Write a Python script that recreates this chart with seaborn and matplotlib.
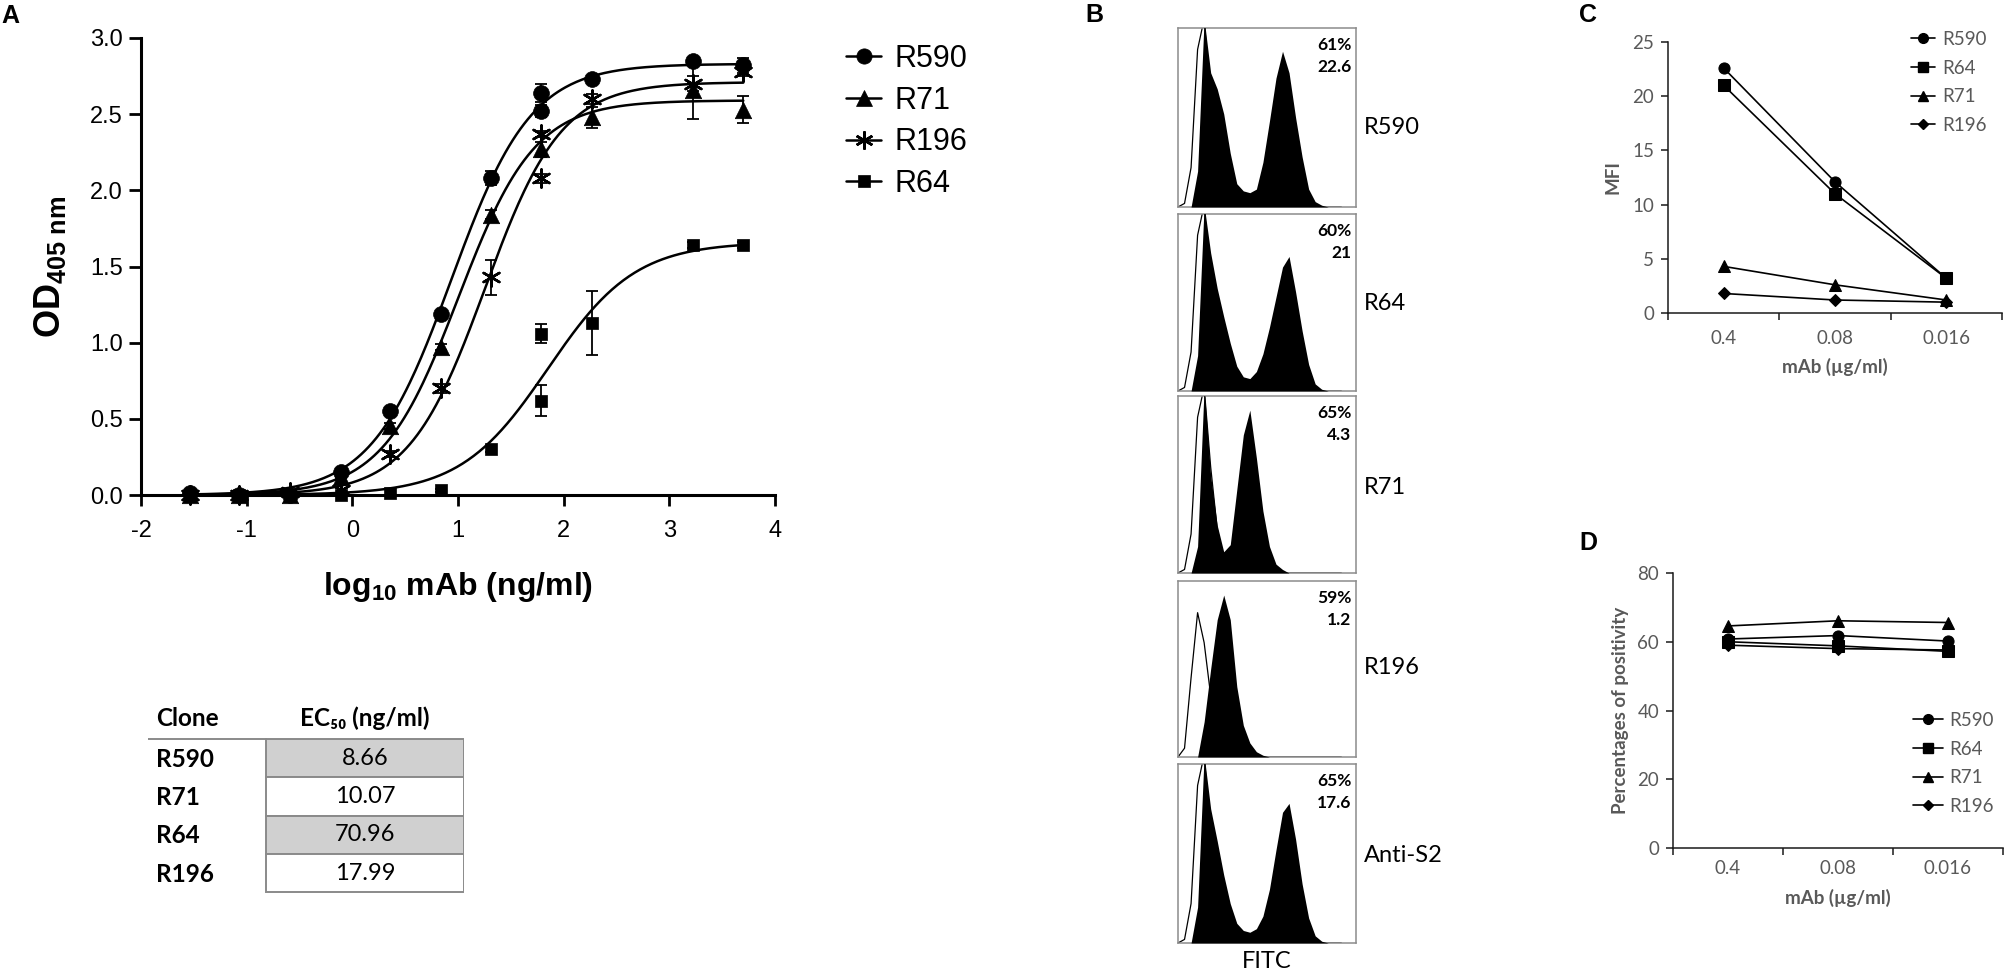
import numpy as np
import pandas as pd
import matplotlib
matplotlib.use("Agg")
import matplotlib.pyplot as plt
import seaborn as sns
from matplotlib.lines import Line2D
from matplotlib.patches import Rectangle
from matplotlib.ticker import FormatStrFormatter

# ---------------- A: ELISA titration ----------------
clones_A = ["R590", "R71", "R196", "R64"]
log_conc = [-1.54, -1.07, -0.59, -0.11, 0.36, 0.84, 1.31, 1.79, 2.27, 3.22, 3.70]
od_R590 = [0.01, 0.00, 0.00, 0.15, 0.55, 1.19, 2.08, 2.64, 2.73, 2.85, 2.82]
od_R71 = [0.00, 0.00, 0.00, 0.12, 0.45, 0.97, 1.84, 2.27, 2.48, 2.66, 2.53]
od_R196 = [0.00, 0.00, 0.02, 0.03, 0.27, 0.70, 1.43, 2.08, 2.60, 2.70, 2.78]
od_R64 = [0.00, 0.00, 0.00, 0.00, 0.01, 0.03, 0.30, 0.62, 1.13, 1.64, 1.64]
sd_R590 = [0, 0, 0, 0.01, 0.02, 0.02, 0.045, 0.06, 0.02, 0.02, 0.05]
sd_R71 = [0, 0, 0, 0.01, 0.02, 0.02, 0.03, 0.05, 0.07, 0.19, 0.09]
sd_R196 = [0, 0, 0, 0, 0.02, 0.03, 0.115, 0.03, 0.03, 0.05, 0.03]
sd_R64 = [0, 0, 0, 0, 0, 0.01, 0.02, 0.10, 0.21, 0.02, 0.02]
# second readings at log10 = 1.79
dup_log = 1.79
dup_clones = ["R590", "R196", "R64"]
dup_od = [2.52, 2.37, 1.06]
dup_sd = [0.04, 0.02, 0.065]
# 4PL fit (top, hill); EC50 taken from the table
fit_top = [2.83, 2.59, 2.71, 1.66]
fit_hill = [1.15, 1.2, 1.2, 1.05]

table_clones = ["R590", "R71", "R64", "R196"]
ec50_values = [8.66, 10.07, 70.96, 17.99]

# ---------------- B: flow histograms ----------------
hist_names = ["R590", "R64", "R71", "R196", "Anti-S2"]
pct_positive = [61, 60, 65, 59, 65]
mfi_values = ["22.6", "21", "4.3", "1.2", "17.6"]
fitc_channel = list(range(0, 101, 4))
fill_R590 = [0, 0, 0, 20, 105, 75, 66, 52, 30, 13, 9, 8, 10, 25, 48, 72, 87, 75, 50, 28, 10, 3, 1, 0, 0, 0]
fill_R64 = [0, 0, 0, 20, 105, 78, 58, 42, 27, 14, 8, 7, 11, 21, 36, 53, 70, 76, 56, 34, 15, 4, 1, 0, 0, 0]
fill_R71 = [0, 0, 0, 15, 105, 55, 27, 12, 16, 47, 78, 92, 65, 35, 15, 5, 2, 0, 0, 0, 0, 0, 0, 0, 0, 0]
fill_R196 = [0, 0, 0, 0, 20, 50, 78, 92, 78, 40, 18, 8, 3, 1, 0, 0, 0, 0, 0, 0, 0, 0, 0, 0, 0, 0]
fill_antiS2 = [0, 0, 0, 20, 105, 75, 57, 38, 22, 11, 7, 6, 8, 15, 30, 52, 73, 78, 58, 33, 14, 4, 1, 0, 0, 0]
ctrl_main = [0, 2, 22, 88, 105, 60, 25, 8, 2, 0, 0, 0, 0, 0, 0, 0, 0, 0, 0, 0, 0, 0, 0, 0, 0, 0]
ctrl_R196 = [0, 5, 45, 82, 65, 35, 15, 5, 1, 0, 0, 0, 0, 0, 0, 0, 0, 0, 0, 0, 0, 0, 0, 0, 0, 0]

# ---------------- C / D ----------------
conc_ugml = ["0.4", "0.08", "0.016"]
clones_CD = ["R590", "R64", "R71", "R196"]
mfi_R590 = [22.6, 12.1, 3.2]
mfi_R64 = [21.0, 11.0, 3.2]
mfi_R71 = [4.3, 2.6, 1.2]
mfi_R196 = [1.8, 1.2, 1.0]
pos_R590 = [60.8, 61.8, 60.2]
pos_R64 = [60.0, 58.8, 57.2]
pos_R71 = [64.6, 66.1, 65.6]
pos_R196 = [59.0, 58.0, 57.6]

# ---------------- style ----------------
sns.set_theme(style="white")
plt.rcParams["font.family"] = ["Liberation Sans", "DejaVu Sans"]
plt.rcParams["mathtext.fontset"] = "custom"
plt.rcParams["mathtext.rm"] = "Liberation Sans"
plt.rcParams["mathtext.bf"] = "Liberation Sans:bold"
plt.rcParams["mathtext.it"] = "Liberation Sans:italic"
plt.rcParams["axes.unicode_minus"] = False
for k in ["text.color", "axes.labelcolor", "xtick.color", "ytick.color"]:
    plt.rcParams[k] = "black"
CAL = ["Lato", "DejaVu Sans"]
GREY = "#595959"

W, H = 2008, 974
fig = plt.figure(figsize=(W / 100, H / 100), dpi=100)


def rect(x0, y0, x1, y1):
    return [x0 / W, 1 - y1 / H, (x1 - x0) / W, (y1 - y0) / H]


# ================= panel A =================
axA = fig.add_axes(rect(141, 38, 775, 495))
od = {"R590": od_R590, "R71": od_R71, "R196": od_R196, "R64": od_R64}
sd = {"R590": sd_R590, "R71": sd_R71, "R196": sd_R196, "R64": sd_R64}
rows = []
for c in clones_A:
    for x, y, e in zip(log_conc, od[c], sd[c]):
        rows.append((c, x, y, e))
for c, y, e in zip(dup_clones, dup_od, dup_sd):
    rows.append((c, dup_log, y, e))
dfA = pd.DataFrame(rows, columns=["clone", "log_conc", "od", "sd"])

ec50 = dict(zip(table_clones, ec50_values))
grid = np.linspace(-1.6, 3.7, 300)
curves = []
for c, top, hill in zip(clones_A, fit_top, fit_hill):
    yfit = top / (1 + 10 ** ((np.log10(ec50[c]) - grid) * hill))
    curves.append(pd.DataFrame({"clone": c, "log_conc": grid, "od": yfit}))
dfFit = pd.concat(curves, ignore_index=True)
sns.lineplot(data=dfFit, x="log_conc", y="od", units="clone", estimator=None,
             color="black", lw=1.8, ax=axA, zorder=2)

mk_A = {"R590": "o", "R71": "^", "R196": (6, 2, 0), "R64": "s"}
sz_A = {"R590": 130, "R71": 140, "R196": 170, "R64": 85}
for c in clones_A:
    sub = dfA[dfA.clone == c]
    bars = sub[sub.sd > 0]
    axA.errorbar(bars.log_conc, bars.od, yerr=bars.sd, fmt="none", ecolor="black",
                 elinewidth=1.3, capsize=4.5, capthick=1.3, zorder=2, clip_on=False)
    sns.scatterplot(data=sub, x="log_conc", y="od", marker=mk_A[c], s=sz_A[c],
                    color="black", edgecolor="black",
                    linewidth=1.8 if c == "R196" else 0.5,
                    ax=axA, zorder=3, clip_on=False, legend=False)

axA.set_xlim(-2, 4)
axA.set_ylim(0, 3)
axA.set_xticks(range(-2, 5))
axA.set_yticks(np.arange(0, 3.01, 0.5))
axA.yaxis.set_major_formatter(FormatStrFormatter("%.1f"))
sns.despine(ax=axA)
for s in ["left", "bottom"]:
    axA.spines[s].set_linewidth(2.2)
    axA.spines[s].set_color("black")
axA.tick_params(axis="x", bottom=True, direction="out", length=8, width=2, labelsize=17, pad=10)
axA.tick_params(axis="y", left=True, direction="out", length=9, width=2, labelsize=17, pad=4)
axA.set_xlabel(r"log$_{\mathbf{10}}$ mAb (ng/ml)", fontsize=23, fontweight="bold", labelpad=20)
axA.set_ylabel(r"$\mathbf{OD_{405\ nm}}$", fontsize=26, labelpad=16)

hA = [Line2D([0], [0], color="black", lw=1.8, marker=mk_A[c],
             ms=13 if c == "R196" else (9 if c == "R64" else 11),
             mew=1.8 if c == "R196" else 0.5, mec="black", mfc="black") for c in clones_A]
fig.legend(hA, clones_A, loc="upper left", bbox_to_anchor=(846 / W, 1 - 44 / H),
           frameon=False, fontsize=22, handlelength=1.15, handletextpad=0.45,
           labelspacing=0.38, borderpad=0, borderaxespad=0)

# EC50 table
axT = fig.add_axes(rect(148, 700, 464, 895))
axT.set_xlim(148, 464)
axT.set_ylim(895, 700)
axT.axis("off")
row_h = 38.3
axT.text(156, 718, "Clone", fontsize=17.5, fontweight="bold", family=CAL, va="center", ha="left")
axT.text(365, 718, "EC\u2085\u2080 (ng/ml)", fontsize=17.5, fontweight="bold", family=CAL,
         va="center", ha="center")
axT.plot([148, 266], [739, 739], color="#8a8a8a", lw=1.4)
for i, (c, v) in enumerate(zip(table_clones, ec50_values)):
    y0 = 739 + i * row_h
    fc = "#d0d0d0" if i % 2 == 0 else "white"
    axT.add_patch(Rectangle((266, y0), 198, row_h, fc=fc, ec="#8a8a8a", lw=1.4))
    axT.text(156, y0 + row_h / 2 + 1, c, fontsize=17.5, fontweight="bold", family=CAL,
             va="center", ha="left")
    axT.text(365, y0 + row_h / 2, f"{v:.2f}", fontsize=17, family=CAL, va="center", ha="center")

# ================= panel B =================
hist_fill = [fill_R590, fill_R64, fill_R71, fill_R196, fill_antiS2]
hist_ctrl = [ctrl_main, ctrl_main, ctrl_main, ctrl_R196, ctrl_main]
box_y = [(28, 207), (214, 391), (396, 573), (581, 757), (764, 943)]
label_y = [127, 303, 488, 667, 855]
for name, fl, ct, pct, mfi, (y0, y1), ly in zip(hist_names, hist_fill, hist_ctrl,
                                               pct_positive, mfi_values, box_y, label_y):
    ax = fig.add_axes(rect(1178, y0, 1356, y1))
    sns.lineplot(x=fitc_channel, y=ct, color="black", lw=0.9, ax=ax, zorder=2)
    ax.fill_between(fitc_channel, fl, color="black", lw=0, zorder=3)
    ax.set_xlim(0, 109)
    ax.set_ylim(0, 100)
    ax.set_xticks([])
    ax.set_yticks([])
    for s in ax.spines.values():
        s.set_visible(True)
        s.set_color("#8c8c8c")
        s.set_linewidth(1.1)
    ax.text(0.975, 0.95, f"{pct}%\n{mfi}", transform=ax.transAxes, ha="right", va="top",
            fontsize=12.5, fontweight="bold", family=CAL, linespacing=1.5)
    fig.text(1364 / W, 1 - ly / H, name, fontsize=17, family=CAL, ha="left", va="center")
fig.text(1267 / W, 1 - 962 / H, "FITC", fontsize=17, family=CAL, ha="center", va="center")

# ================= panels C and D =================
mk_CD = {"R590": "o", "R64": "s", "R71": "^", "R196": "D"}
ms_CD = {"R590": 8, "R64": 8, "R71": 8.5, "R196": 6.5}


def excel_lines(ax, vals, ymax, step, ylabel, tpad, lpad, ylpad):
    df = pd.DataFrame([(c, k, v) for c in clones_CD for k, v in zip(conc_ugml, vals[c])],
                      columns=["clone", "conc", "val"])
    for c in clones_CD:
        sns.lineplot(data=df[df.clone == c], x="conc", y="val", color="black", lw=1.2,
                     marker=mk_CD[c], ms=ms_CD[c], mec="black", mfc="black", sort=False,
                     ax=ax, clip_on=False)
    ax.set_xlim(-0.5, 2.5)
    ax.set_ylim(0, ymax)
    ax.set_xticks([0, 1, 2], labels=conc_ugml, fontfamily=CAL, fontsize=13.5, color=GREY)
    ax.set_xticks([-0.5, 0.5, 1.5, 2.5], minor=True)
    yt = list(range(0, ymax + 1, step))
    ax.set_yticks(yt, labels=[str(v) for v in yt], fontfamily=CAL, fontsize=13.5, color=GREY)
    sns.despine(ax=ax)
    for s in ["left", "bottom"]:
        ax.spines[s].set_color("#1a1a1a")
        ax.spines[s].set_linewidth(1.1)
    ax.tick_params(axis="x", which="major", length=0, pad=tpad)
    ax.tick_params(axis="x", which="minor", bottom=True, length=5, width=1.1, color="#1a1a1a")
    ax.tick_params(axis="y", left=True, length=5, width=1.1, color="#1a1a1a", pad=5)
    ax.set_xlabel("mAb (\u00b5g/ml)", fontsize=13.5, fontweight="bold", family=CAL,
                  color=GREY, labelpad=lpad)
    ax.set_ylabel(ylabel, fontsize=13.5, fontweight="bold", family=CAL, color=GREY,
                  labelpad=ylpad)


def cd_legend(ax, x0, ytop, spacing, hlen):
    hs = [Line2D([0], [0], color="black", lw=1.2, marker=mk_CD[c], ms=ms_CD[c] - 1,
                 mec="black", mfc="black") for c in clones_CD]
    fig.legend(hs, clones_CD, loc="upper left", bbox_to_anchor=(x0 / W, 1 - ytop / H),
               frameon=False, prop={"family": CAL, "size": 13.5}, labelcolor=GREY,
               handlelength=hlen, handletextpad=0.35, labelspacing=spacing,
               borderpad=0, borderaxespad=0)


axC = fig.add_axes(rect(1668, 42, 2002, 313))
excel_lines(axC, {"R590": mfi_R590, "R64": mfi_R64, "R71": mfi_R71, "R196": mfi_R196},
            25, 5, "MFI", 12, 8, 8)
cd_legend(axC, 1911, 31, 0.62, 1.3)

axD = fig.add_axes(rect(1673, 573, 2003, 848))
excel_lines(axD, {"R590": pos_R590, "R64": pos_R64, "R71": pos_R71, "R196": pos_R196},
            80, 20, "Percentages of positivity", 9, 8, 6)
cd_legend(axD, 1913, 712, 0.62, 1.6)

# panel letters
for lab, x, y in [("A", 10, 16), ("B", 1094, 15), ("C", 1588, 15), ("D", 1588, 543)]:
    fig.text(x / W, 1 - y / H, lab, fontsize=18, fontweight="bold", ha="center", va="center")

fig.savefig("out.png", dpi=100)
